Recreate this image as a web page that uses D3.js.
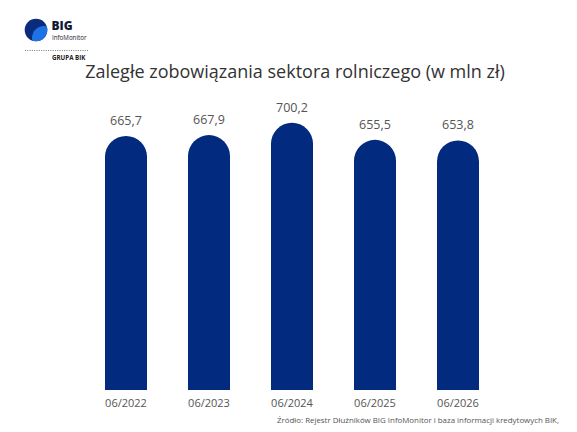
<!DOCTYPE html>
<html>
<head>
<meta charset="utf-8">
<script src="https://cdn.jsdelivr.net/npm/d3@7/dist/d3.min.js"></script>
<style>
  body { margin: 0; background: #fff; }
  text { font-family: "Open Sans", sans-serif; }
</style>
</head>
<body>
<div id="chart"></div>
<script>
// data
const periods = ["06/2022", "06/2023", "06/2024", "06/2025", "06/2026"];
const amounts = [665.7, 667.9, 700.2, 655.5, 653.8];
const labels = ["665,7", "667,9", "700,2", "655,5", "653,8"];

const W = 577, H = 432;
const svg = d3.select("#chart").append("svg")
    .attr("width", W).attr("height", H);

// logo
const logo = svg.append("g");
logo.append("clipPath").attr("id", "logoClip")
    .append("circle").attr("cx", 36).attr("cy", 30).attr("r", 11.3);
logo.append("circle").attr("cx", 36).attr("cy", 30).attr("r", 11.3).attr("fill", "#0b2c7c");
logo.append("circle").attr("cx", 44).attr("cy", 38).attr("r", 12)
    .attr("fill", "#1f72e6").attr("clip-path", "url(#logoClip)");
logo.append("text").attr("x", 51.5).attr("y", 29.5)
    .style("font-size", "12px").style("font-weight", "800").attr("fill", "#111a33").text("BIG");
logo.append("text").attr("x", 52).attr("y", 39.5)
    .style("font-size", "6.2px").attr("fill", "#1a1a2e").text("InfoMonitor");
logo.append("line").attr("x1", 25).attr("x2", 88).attr("y1", 50.5).attr("y2", 50.5)
    .attr("stroke", "#555").attr("stroke-width", 0.8).attr("stroke-dasharray", "1,1.3");
logo.append("text").attr("x", 52).attr("y", 59.5)
    .style("font-size", "6.2px").style("font-weight", "700").attr("fill", "#222").text("GRUPA BIK");

// title
svg.append("text").attr("x", 295).attr("y", 78).attr("text-anchor", "middle")
    .style("font-size", "18px").attr("fill", "#333")
    .text("Zaległe zobowiązania sektora rolniczego (w mln zł)");

const x = d3.scaleBand().domain(periods).range([84.5, 499.5]).paddingInner(0.494).paddingOuter(0.247);
const y = d3.scaleLinear().domain([0, 700]).range([390, 390 - 267.2]);

const bw = x.bandwidth(), r = bw / 2;
const g = svg.append("g");

g.selectAll("path.bar").data(periods).enter().append("path")
    .attr("class", "bar")
    .attr("fill", "#022a7e")
    .attr("d", (d, i) => {
        const x0 = x(d), top = y(amounts[i]), bot = y(0);
        return `M${x0},${bot} L${x0},${top + r} A${r},${r} 0 0,1 ${x0 + bw},${top + r} L${x0 + bw},${bot} Z`;
    });

g.selectAll("text.val").data(periods).enter().append("text")
    .attr("class", "val")
    .attr("x", d => x(d) + r)
    .attr("y", (d, i) => y(amounts[i]) - 11)
    .attr("text-anchor", "middle")
    .style("font-size", "12.5px").attr("fill", "#555")
    .text((d, i) => labels[i]);

const axis = svg.append("g").attr("transform", "translate(0,390)")
    .call(d3.axisBottom(x).tickSize(0).tickPadding(9));
axis.select(".domain").remove();
axis.selectAll("text").style("font-size", "11px").style("font-family", "'Open Sans', sans-serif").attr("fill", "#555");

svg.append("text").attr("x", 277).attr("y", 423)
    .style("font-size", "7.6px").attr("fill", "#555")
    .attr("textLength", 282).attr("lengthAdjust", "spacingAndGlyphs")
    .text("Źródło: Rejestr Dłużników BIG InfoMonitor i baza informacji kredytowych BIK,");
</script>
</body>
</html>
